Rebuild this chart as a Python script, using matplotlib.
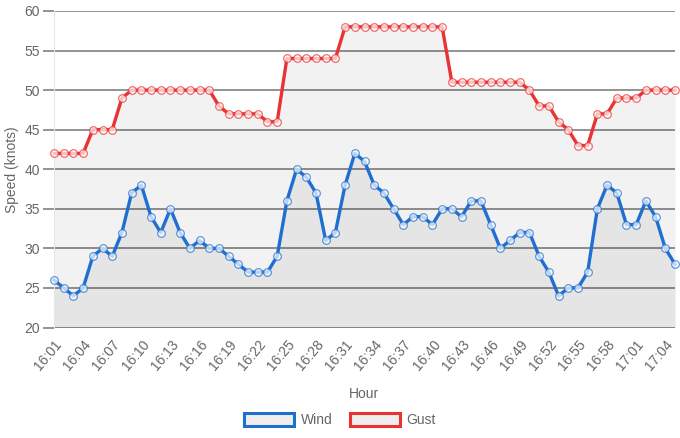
import numpy as np
import matplotlib
matplotlib.use("Agg")
import matplotlib.pyplot as plt
from matplotlib.patches import Patch

# minute-by-minute readings, 16:01 .. 17:05
minutes = [f"{16 + (m // 60)}:{m % 60:02d}" for m in range(1, 66)]
wind = [26, 25, 24, 25, 29, 30, 29, 32, 37, 38, 34, 32, 35, 32, 30, 31, 30, 30,
        29, 28, 27, 27, 27, 29, 36, 40, 39, 37, 31, 32, 38, 42, 41, 38, 37, 35,
        33, 34, 34, 33, 35, 35, 34, 36, 36, 33, 30, 31, 32, 32, 29, 27, 24, 25,
        25, 27, 35, 38, 37, 33, 33, 36, 34, 30, 28]
gust = [42, 42, 42, 42, 45, 45, 45, 49, 50, 50, 50, 50, 50, 50, 50, 50, 50, 48,
        47, 47, 47, 47, 46, 46, 54, 54, 54, 54, 54, 54, 58, 58, 58, 58, 58, 58,
        58, 58, 58, 58, 58, 51, 51, 51, 51, 51, 51, 51, 51, 50, 48, 48, 46, 45,
        43, 43, 47, 47, 49, 49, 49, 50, 50, 50, 50]

wind_col = "#1f6fd1"
gust_col = "#ea3232"
text_col = "#666666"

plt.rcParams["font.family"] = ["Liberation Sans", "DejaVu Sans"]

fig = plt.figure(figsize=(6.8, 4.38), dpi=100)
ax = fig.add_axes([54 / 680, 1 - 327.5 / 438, 621 / 680, 316.5 / 438])

x = np.arange(len(minutes))
ax.fill_between(x, 20, gust, color="black", alpha=0.05, lw=0)
ax.fill_between(x, 20, wind, color="black", alpha=0.05, lw=0)

for ys, c in ((gust, gust_col), (wind, wind_col)):
    ax.plot(x, ys, color=c, lw=2.4, zorder=3, clip_on=False)
    ax.plot(x, ys, ls="none", marker="o", ms=5.5, mfc=(1, 1, 1, 0.1),
            mec=c, mew=0.9, alpha=0.7, zorder=4, clip_on=False)

ax.set_xlim(0, len(minutes) - 1)
ax.set_ylim(20, 60)
ax.set_yticks(range(20, 61, 5))
ax.set_xticks(x[::3])
ax.set_xticklabels(minutes[::3], rotation=50, ha="right", rotation_mode="anchor")

ax.grid(axis="y", color="#8a8a8a", lw=1.3)
ax.set_axisbelow(True)
for s in ("top", "right", "bottom"):
    ax.spines[s].set_visible(False)
ax.spines["left"].set_color("#e6e6e6")
ax.tick_params(axis="y", length=8, width=1.3, color="#8a8a8a",
               labelsize=10, labelcolor=text_col, pad=2)
ax.tick_params(axis="x", length=0, labelsize=10, labelcolor=text_col, pad=7)

ax.set_ylabel("Speed (knots)", color=text_col, fontsize=10, labelpad=4)
ax.set_xlabel("Hour", color=text_col, fontsize=10, labelpad=10)

handles = [Patch(facecolor="#eeeeee", edgecolor=wind_col, lw=2.2, label="Wind"),
           Patch(facecolor="#eeeeee", edgecolor=gust_col, lw=2.2, label="Gust")]
leg = fig.legend(handles=handles, loc="center", bbox_to_anchor=(0.5, 1 - 420 / 438),
                 ncol=2, frameon=False, fontsize=10, handlelength=3.6,
                 handleheight=1.1, columnspacing=1.2, handletextpad=0.5)
for t in leg.get_texts():
    t.set_color(text_col)

fig.savefig("out.png", dpi=100)
